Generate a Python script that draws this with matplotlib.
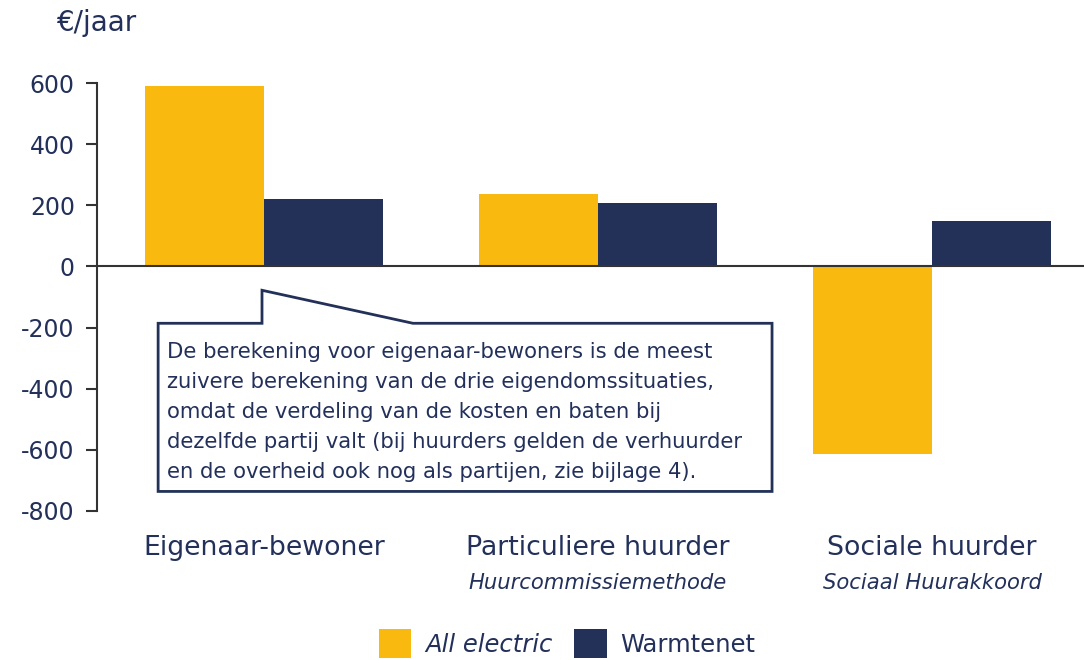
import numpy as np
import matplotlib.pyplot as plt
from matplotlib.patches import Polygon
from matplotlib.transforms import blended_transform_factory

categories = ["Eigenaar-bewoner", "Particuliere huurder", "Sociale huurder"]
subtitles = ["", "Huurcommissiemethode", "Sociaal Huurakkoord"]
all_electric = [590, 236, -613]
warmtenet = [220, 207, 148]
yticks = [600, 400, 200, 0, -200, -400, -600, -800]

navy = "#233159"
yellow = "#F9B90F"
txt = "#22305A"

plt.rcParams['font.family'] = ['DejaVu Sans']

fig = plt.figure(figsize=(10.84, 6.6), dpi=100)
ax = fig.add_axes([97/1084, 1-511/660, 1-97/1084, (511-83)/660])

x = np.arange(len(categories))
w = 0.356
ax.bar(x - w/2, all_electric, w, color=yellow, label="All electric")
ax.bar(x + w/2, warmtenet, w, color=navy, label="Warmtenet")

ax.set_xlim(-0.5, 2.455)
ax.set_ylim(-800, 600)
ax.set_yticks(yticks)
ax.set_yticklabels([str(v) for v in yticks], color=txt, fontsize=17)
ax.tick_params(axis='y', length=8, width=1.5, color="#333333", pad=8)

for s in ["top", "right", "bottom"]:
    ax.spines[s].set_visible(False)
ax.spines["left"].set_linewidth(1.5)
ax.spines["left"].set_color("#333333")
ax.axhline(0, color="#333333", lw=1.5, zorder=3)

ax.set_xticks(x)
ax.set_xticklabels(categories, color=txt, fontsize=19.3)
ax.tick_params(axis='x', length=0, pad=17)

trans = blended_transform_factory(ax.transData, ax.transAxes)
for xi, sub in zip(x, subtitles):
    if sub:
        ax.text(xi, -0.168, sub, transform=trans, ha="center", va="center",
                fontsize=15.2, style="italic", color=txt)

# speech-bubble callout
bubble = [(-0.317, -186), (-0.006, -186), (-0.006, -78), (0.446, -186),
          (1.521, -186), (1.521, -736), (-0.317, -736)]
ax.add_patch(Polygon(bubble, closed=True, facecolor="white", edgecolor=navy,
                     lw=2, zorder=4))
note = ("De berekening voor eigenaar-bewoners is de meest\n"
        "zuivere berekening van de drie eigendomssituaties,\n"
        "omdat de verdeling van de kosten en baten bij\n"
        "dezelfde partij valt (bij huurders gelden de verhuurder\n"
        "en de overheid ook nog als partijen, zie bijlage 4).")
ax.text(-0.289, -246, note, ha="left", va="top", fontsize=15.2, color=txt,
        linespacing=1.63, zorder=5)

fig.text(57/1084, 1-23/660, "€/jaar", ha="left", va="center", fontsize=20, color=txt)

leg = fig.legend(loc="lower center", bbox_to_anchor=(0.523, -0.03), ncol=2,
                 frameon=False, fontsize=17.5, handlelength=1.35, handleheight=1.45,
                 columnspacing=0.9, handletextpad=0.55)
for t in leg.get_texts():
    t.set_color(txt)
leg.get_texts()[0].set_fontstyle("italic")

fig.savefig("out.png", dpi=100)
